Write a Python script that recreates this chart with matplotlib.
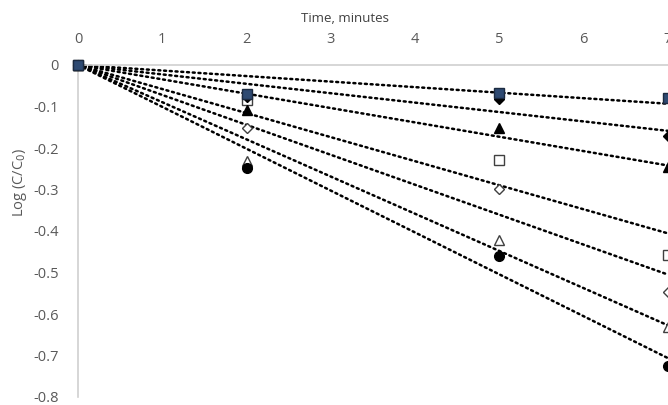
import numpy as np
import matplotlib.pyplot as plt

# data
time_min = [0, 2, 5, 7]
sq_navy = [0, -0.070, -0.068, -0.080]
dia_black = [0, -0.078, -0.083, -0.171]
tri_black = [0, -0.108, -0.152, -0.246]
sq_open = [0, -0.085, -0.229, -0.458]
dia_open = [0, -0.152, -0.299, -0.547]
tri_open = [0, -0.232, -0.422, -0.631]
circ_black = [0, -0.248, -0.460, -0.725]

x_ticks = [0, 1, 2, 3, 4, 5, 6, 7]
y_ticks = [0, -0.1, -0.2, -0.3, -0.4, -0.5, -0.6, -0.7, -0.8]

plt.rcParams['font.family'] = ['Open Sans', 'DejaVu Sans']

fig = plt.figure(figsize=(6.68, 4.05), dpi=100)
ax = fig.add_axes([78 / 668, 1 - 397 / 405, 1 - 78 / 668, (397 - 65) / 405])

# (values, marker, face, edge, size), drawn in this order
series = [
    (tri_open, '^', 'white', '#404040', 7),
    (dia_open, 'D', 'white', '#404040', 5.5),
    (sq_open, 's', 'white', '#404040', 7),
    (circ_black, 'o', 'black', 'black', 7),
    (tri_black, '^', 'black', 'black', 7),
    (dia_black, 'D', 'black', 'black', 5.5),
    (sq_navy, 's', '#2E4A72', '#1b2a40', 7.5),
]

# linear trendlines through the origin (dotted)
t = np.array(time_min, dtype=float)
xx = np.array([0, 7])
for vals, *_ in series:
    v = np.array(vals)
    k = (t * v).sum() / (t * t).sum()
    ax.plot(xx, k * xx, color='black', lw=1.8,
            linestyle=(0, (0.8, 1.5)), dash_capstyle='round',
            clip_on=False, zorder=2)

for vals, m, fc, ec, ms in series:
    ax.plot(time_min, vals, linestyle='none', marker=m, ms=ms,
            markerfacecolor=fc, markeredgecolor=ec, markeredgewidth=1.0,
            clip_on=False, zorder=3)

ax.set_xlim(0, 7)
ax.set_ylim(-0.8, 0)
ax.set_xticks(x_ticks)
ax.set_yticks(y_ticks)
ax.set_yticklabels([f'{v:g}' for v in y_ticks])
ax.xaxis.tick_top()
ax.tick_params(length=0, labelsize=10.5, labelcolor='#595959')
ax.tick_params(axis='x', pad=13)
ax.tick_params(axis='y', pad=14)

for s in ['bottom', 'right']:
    ax.spines[s].set_visible(False)
for s in ['top', 'left']:
    ax.spines[s].set_color('#d0d0d0')
    ax.spines[s].set_linewidth(1.2)

fig.text(345 / 668, 1 - 18 / 405, 'Time, minutes', ha='center', va='center',
         fontsize=9.5, color='#404040')
fig.text(20 / 668, 1 - 182 / 405, 'Log (C/C$_0$)', ha='center', va='center',
         rotation=90, fontsize=10.5, color='#595959')

fig.savefig('out.png', dpi=100)
